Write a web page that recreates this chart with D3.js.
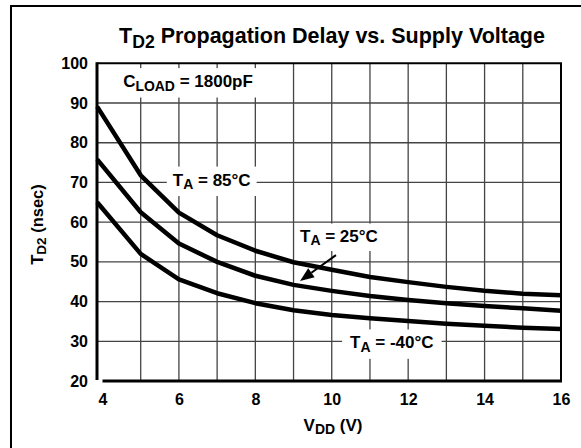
<!DOCTYPE html>
<head>
  <meta charset="utf-8">
  <script src="https://d3js.org/d3.v7.min.js"></script>
  <style>
    body { margin:0; background:#fff; }
    text { font-family: "Liberation Sans", Arial, sans-serif; font-weight: bold; fill:#000; }
  </style>
</head>
<body>
  <script>

    var width = 581,
        height = 448;

    // supply voltage (V) and delay (nsec)
    var vdd = [3.86, 5, 6, 7, 8, 9, 10, 11, 12, 13, 14, 15, 16];
    var td85 = [89.1, 71.8, 62.4, 56.7, 52.8, 49.9, 48.0, 46.2, 44.9, 43.7, 42.7, 42.0, 41.6];
    var td25 = [75.8, 62.5, 54.6, 50.0, 46.5, 44.2, 42.7, 41.4, 40.4, 39.6, 38.9, 38.3, 37.7];
    var tdM40 = [65.0, 52.0, 45.6, 42.1, 39.6, 37.8, 36.6, 35.8, 35.1, 34.4, 33.9, 33.4, 33.1];

    var xTicks = [4, 6, 8, 10, 12, 14, 16];
    var yTicks = [20, 30, 40, 50, 60, 70, 80, 90, 100];
    var xGrid = [5, 6, 7, 8, 9, 10, 11, 12, 13, 14, 15];
    var yGrid = [30, 40, 50, 60, 70, 80, 90];

    var svg = d3.select("body").append("svg")
      .attr("width", width)
      .attr("height", height);

    // outer frame (runs off the right and bottom)
    svg.append("rect")
      .attr("x", 11).attr("y", 6)
      .attr("width", 600).attr("height", 500)
      .attr("fill", "none").attr("stroke", "#000").attr("stroke-width", 2);

    var x = d3.scaleLinear().domain([4, 16]).range([102.5, 561]);
    var y = d3.scaleLinear().domain([20, 100]).range([381, 63.3]);
    var axisX = 97;

    // grid
    svg.selectAll(".vg").data(xGrid).enter().append("line")
      .attr("x1", function(d) { return x(d) }).attr("x2", function(d) { return x(d) })
      .attr("y1", y(100)).attr("y2", y(20))
      .attr("stroke", "#444").attr("stroke-width", 1.3);

    svg.selectAll(".hg").data(yGrid).enter().append("line")
      .attr("x1", axisX).attr("x2", x(16))
      .attr("y1", function(d) { return y(d) }).attr("y2", function(d) { return y(d) })
      .attr("stroke", "#444").attr("stroke-width", 1.3);

    // top and right border
    svg.append("path")
      .attr("d", "M" + axisX + "," + y(100) + "H" + x(16) + "V" + y(20))
      .attr("fill", "none").attr("stroke", "#000").attr("stroke-width", 2);

    // axes
    svg.append("line")
      .attr("x1", axisX).attr("x2", axisX).attr("y1", y(100) - 1).attr("y2", y(20) - 1)
      .attr("stroke", "#000").attr("stroke-width", 3);
    svg.append("line")
      .attr("x1", x(4)).attr("x2", x(16) + 1).attr("y1", y(20)).attr("y2", y(20))
      .attr("stroke", "#000").attr("stroke-width", 3);

    var gx = svg.append("g").attr("transform", "translate(0," + y(20) + ")")
      .call(d3.axisBottom(x).tickValues(xTicks).tickSize(0).tickPadding(13));
    var gy = svg.append("g").attr("transform", "translate(" + axisX + ",0)")
      .call(d3.axisLeft(y).tickValues(yTicks).tickSize(0).tickPadding(9));
    [gx, gy].forEach(function(g) {
      g.select(".domain").remove();
      g.selectAll("text").attr("font-size", 16).attr("font-family", null).attr("font-weight", "bold");
    });

    // curves
    var line = d3.line()
      .x(function(d) { return x(d[0]) })
      .y(function(d) { return y(d[1]) });

    [td85, td25, tdM40].forEach(function(s) {
      svg.append("path")
        .datum(d3.zip(vdd, s))
        .attr("d", line)
        .attr("fill", "none").attr("stroke", "#000")
        .attr("stroke-width", 4.5).attr("stroke-linejoin", "round");
    });

    // text with a subscript
    function subText(parent, main, sub, rest, size) {
      var t = parent.append("text").attr("font-size", size);
      t.append("tspan").text(main);
      t.append("tspan").attr("font-size", size * 0.82).attr("dy", size * 0.2).text(sub);
      t.append("tspan").attr("dy", -size * 0.2).text(rest);
      return t;
    }

    function label(main, sub, rest, vx, vy, pad) {
      var g = svg.append("g");
      var t = subText(g, main, sub, rest, 17)
        .attr("x", x(vx)).attr("y", y(vy));
      var b = t.node().getBBox();
      g.insert("rect", "text")
        .attr("x", b.x - pad[0]).attr("y", b.y - pad[1])
        .attr("width", b.width + 2 * pad[0]).attr("height", b.height + 2 * pad[1])
        .attr("fill", "#fff");
    }

    label("C", "LOAD", " = 1800pF", 4.54, 94.0, [8, 4]);
    label("T", "A", " = 85\u00b0C", 5.84, 69.2, [6, 4]);
    label("T", "A", " = 25\u00b0C", 9.17, 55.1, [5, 3]);
    label("T", "A", " = -40\u00b0C", 10.48, 28.2, [8, 4]);

    // arrow to 25C curve
    var arrowFrom = [10.11, 51.7], arrowTo = [9.17, 45.2];
    var x1 = x(arrowFrom[0]), y1 = y(arrowFrom[1]), x2 = x(arrowTo[0]), y2 = y(arrowTo[1]);
    var ang = Math.atan2(y2 - y1, x2 - x1), hl = 14, hw = 5.5;
    var bx = x2 - hl * Math.cos(ang), by = y2 - hl * Math.sin(ang);
    svg.append("line")
      .attr("x1", x1).attr("y1", y1).attr("x2", bx).attr("y2", by)
      .attr("stroke", "#000").attr("stroke-width", 2);
    svg.append("path")
      .attr("d", "M" + x2 + "," + y2 +
        "L" + (bx + hw * Math.sin(ang)) + "," + (by - hw * Math.cos(ang)) +
        "L" + (bx - hw * Math.sin(ang)) + "," + (by + hw * Math.cos(ang)) + "Z")
      .attr("fill", "#000");

    // titles
    subText(svg, "T", "D2", " Propagation Delay vs. Supply Voltage", 21.5)
      .attr("x", 332).attr("y", 43.3).attr("text-anchor", "middle");

    subText(svg, "V", "DD", " (V)", 17)
      .attr("x", 333).attr("y", 431).attr("text-anchor", "middle");

    subText(svg, "T", "D2", " (nsec)", 16.5)
      .attr("text-anchor", "middle")
      .attr("transform", "translate(43,224.5) rotate(-90)");

  </script>
</body>
